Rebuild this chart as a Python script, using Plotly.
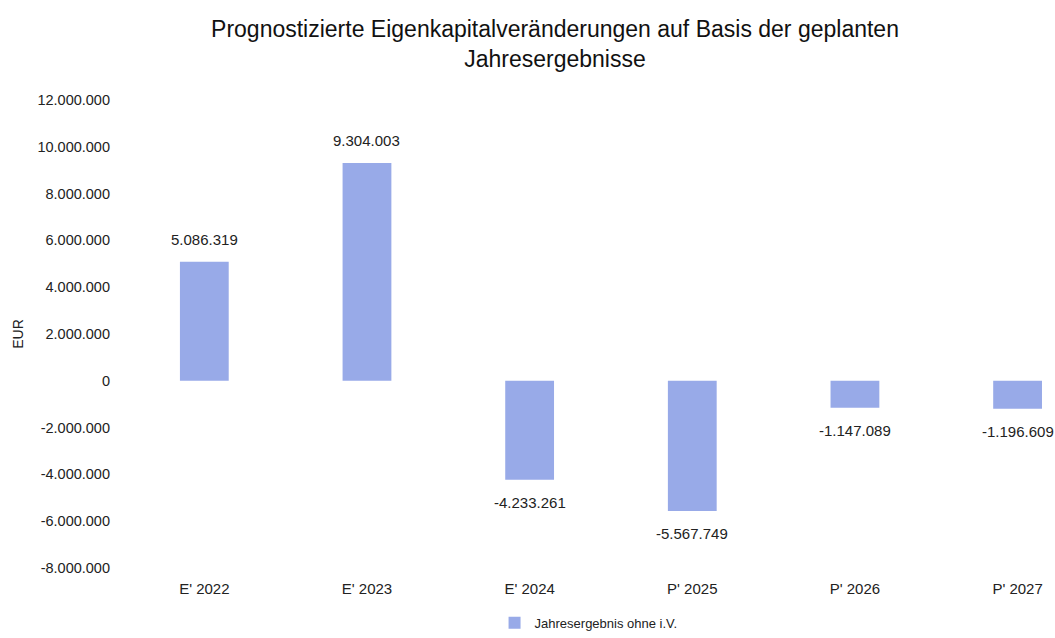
import plotly.graph_objects as go

categories = ["E' 2022", "E' 2023", "E' 2024", "P' 2025", "P' 2026", "P' 2027"]
jahresergebnis = [5086319, 9304003, -4233261, -5567749, -1147089, -1196609]
y_ticks = [12000000, 10000000, 8000000, 6000000, 4000000, 2000000, 0,
           -2000000, -4000000, -6000000, -8000000]
y_tick_labels = ["12.000.000", "10.000.000", "8.000.000", "6.000.000", "4.000.000",
                 "2.000.000", "0", "-2.000.000", "-4.000.000", "-6.000.000", "-8.000.000"]

bar_color = "#98aae8"
text_color = "#222222"
font_family = "Liberation Sans, Arial, sans-serif"


def fmt_de(v):
    # German thousands separator
    s = f"{abs(v):,.0f}".replace(",", ".")
    return ("-" if v < 0 else "") + s


fig = go.Figure()
fig.add_trace(go.Bar(
    x=categories,
    y=jahresergebnis,
    name="Jahresergebnis ohne i.V.",
    marker=dict(color=bar_color, line=dict(width=0)),
    width=0.3,
))

# value labels, placed above positive and below negative bars
for cat, val in zip(categories, jahresergebnis):
    fig.add_annotation(
        x=cat, y=val,
        text=fmt_de(val),
        showarrow=False,
        yanchor="bottom" if val >= 0 else "top",
        yshift=12 if val >= 0 else -12,
        font=dict(size=15, color=text_color, family=font_family),
    )

fig.update_layout(
    width=1055,
    height=638,
    separators=",.",
    paper_bgcolor="white",
    plot_bgcolor="white",
    font=dict(family=font_family, color=text_color),
    margin=dict(l=123, r=0, t=100, b=68),
    title=dict(
        text="Prognostizierte Eigenkapitalveränderungen auf Basis der geplanten<br>Jahresergebnisse",
        x=555 / 1055,
        xanchor="center",
        yref="container",
        y=1 - 37 / 638,
        yanchor="top",
        font=dict(size=23, color="#111111", family=font_family),
    ),
    xaxis=dict(
        range=[-0.5, 5.23],
        showgrid=False,
        zeroline=False,
        showline=False,
        ticks="",
        tickfont=dict(size=15, color=text_color),
        ticklabelstandoff=10,
    ),
    yaxis=dict(
        range=[-8000000, 12000000],
        tickvals=y_ticks,
        ticktext=y_tick_labels,
        showgrid=False,
        zeroline=False,
        showline=False,
        ticks="",
        tickfont=dict(size=14.5, color=text_color),
        ticklabelstandoff=12,
        title=dict(text="EUR", font=dict(size=14, color=text_color), standoff=10),
    ),
    showlegend=True,
    legend=dict(
        orientation="h",
        x=527 / 1055,
        xanchor="center",
        y=-0.085,
        yanchor="top",
        font=dict(size=13, color=text_color),
        itemwidth=30,
    ),
)

fig.write_html("out.html")
